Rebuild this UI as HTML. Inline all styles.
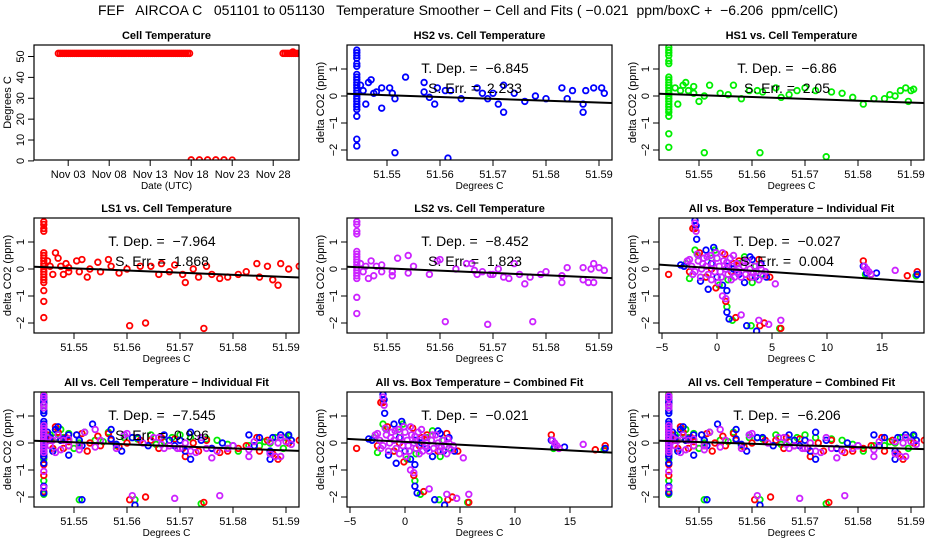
<!DOCTYPE html>
<html><head><meta charset="utf-8"><style>
html,body{margin:0;padding:0;background:#fff;}
svg{display:block;font-family:"Liberation Sans",Arial,sans-serif;}
text{white-space:pre;}
</style></head><body>
<svg id="chart" width="936" height="540" viewBox="0 0 936 540">
<text x="468" y="15" text-anchor="middle" font-size="14">FEF   AIRCOA C   051101 to 051130   Temperature Smoother − Cell and Fits ( −0.021  ppm/boxC +  −6.206  ppm/cellC)</text>
</svg>
<script>
// ---------- data ----------
const cellTempRuns = [[1.8, 18.0, 51.5], [29.2, 31.4, 51.5]];
const cellTempLow = [[18.0,0.5],[19.0,0.5],[20.0,0.5],[21.0,0.5],[22.0,0.5],[23.0,0.4],[30.4,52.2]];
const dateTicks = [3,8,13,18,23,28];
const dateTickLabels = ["Nov 03","Nov 08","Nov 13","Nov 18","Nov 23","Nov 28"];
const tempTicks = [0,10,20,30,40,50];
const cellXTicks = [51.55,51.56,51.57,51.58,51.59];
const boxXTicks = [-5,0,5,10,15];
const dcoTicks = [-2,-1,0,1];
const clusterX = 51.5443;

const hs2Cluster = [1.7,1.6,1.5,1.4,1.2,1.1,0.8,0.7,0.6,0.5,0.4,0.3,0.2,0.1,0,-0.1,-0.2,-0.3,-0.4,-0.5,-0.75,-1.6,-1.85];
const hs2Pts = [[51.545,0.4],[51.5455,0.2],[51.546,-0.3],[51.5465,0.5],[51.547,0.6],[51.5475,0.1],[51.548,0.15],[51.549,0.3],[51.549,-0.45],[51.5505,0.3],[51.551,0.1],[51.5515,-0.1],[51.5535,0.7],[51.557,0.5],[51.557,0.15],[51.558,-0.05],[51.559,-0.3],[51.5595,0.3],[51.561,0.2],[51.562,0.2],[51.5515,-2.1],[51.5615,-2.3],[51.5735,-2.6],[51.564,-0.1],[51.567,0.3],[51.568,0.1],[51.569,-0.1],[51.570,0.1],[51.571,-0.3],[51.572,0.4],[51.572,-0.6],[51.574,0.1],[51.576,-0.2],[51.578,0],[51.580,-0.1],[51.583,0.3],[51.584,-0.1],[51.585,0.2],[51.587,-0.6],[51.587,-0.3],[51.5875,0.2],[51.589,0.3],[51.5905,0.3],[51.591,0.1]];
const hs1Cluster = [1.8,1.7,1.6,1.5,1.3,1.2,0.7,0.6,0.5,0.4,0.3,0.2,0.1,0,-0.1,-0.2,-0.3,-0.4,-0.5,-0.6,-0.75,-1.4,-1.9];
const hs1Pts = [[51.5455,0.3],[51.546,-0.3],[51.5465,0.2],[51.547,0.4],[51.5475,0.5],[51.548,0.2],[51.549,0.35],[51.549,0.1],[51.55,-0.2],[51.551,0],[51.552,0.4],[51.554,0.1],[51.5555,0.05],[51.5565,0.4],[51.558,-0.1],[51.5595,0.2],[51.561,0.2],[51.562,0.15],[51.5645,0.3],[51.5655,-0.05],[51.567,0.05],[51.5685,0.2],[51.570,0.3],[51.572,0.2],[51.575,0.15],[51.577,0.1],[51.579,-0.05],[51.581,-0.3],[51.583,-0.1],[51.585,-0.1],[51.586,0.05],[51.587,0],[51.588,0.2],[51.589,0.3],[51.59,0.2],[51.5905,0.25],[51.5895,-0.2],[51.551,-2.1],[51.5615,-2.1],[51.574,-2.25]];
const ls1Cluster = [1.75,1.65,1.5,1.4,0.6,0.5,0.4,0.3,0.2,0.1,0,-0.1,-0.2,-0.3,-0.4,-0.5,-0.8,-1.2,-1.8];
const ls1Pts = [[51.545,0.3],[51.5455,0.1],[51.546,-0.2],[51.5465,0.6],[51.547,0.4],[51.5475,0.1],[51.548,-0.2],[51.5485,0.2],[51.549,0.05],[51.549,-0.1],[51.5505,0.3],[51.551,-0.1],[51.5515,0.35],[51.5525,-0.3],[51.553,0],[51.5545,0.25],[51.555,-0.1],[51.5565,0.35],[51.557,0.1],[51.5585,-0.15],[51.560,0],[51.5605,-2.1],[51.5625,0.1],[51.5635,-2.0],[51.5645,0.1],[51.566,-0.2],[51.5665,0.2],[51.568,-0.1],[51.569,0.15],[51.5705,-0.2],[51.571,-0.5],[51.5725,0],[51.5735,-0.3],[51.5745,-2.2],[51.575,0.1],[51.576,-0.2],[51.5775,-0.35],[51.579,-0.3],[51.581,-0.2],[51.5825,-0.1],[51.5845,0.2],[51.585,-0.3],[51.5865,0.1],[51.5875,-0.4],[51.5885,-0.6],[51.589,0.2],[51.5905,0],[51.5925,0.1]];
const ls2Cluster = [1.75,1.65,1.4,1.3,0.65,0.55,0.45,0.35,0.25,0.15,0.05,-0.05,-0.15,-0.25,-0.35,-1.05,-1.65];
const ls2Pts = [[51.545,0.2],[51.5455,-0.1],[51.546,0.1],[51.5465,-0.35],[51.547,0.3],[51.5475,-0.25],[51.548,0.1],[51.549,0.15],[51.549,-0.1],[51.551,-0.1],[51.551,-0.25],[51.552,0.4],[51.554,0.5],[51.554,-0.15],[51.555,0.1],[51.558,-0.2],[51.5595,0.3],[51.560,0.35],[51.561,-1.95],[51.563,0],[51.565,0.2],[51.566,0.2],[51.5665,-0.05],[51.567,-0.2],[51.568,-0.1],[51.569,-2.05],[51.5695,-0.2],[51.570,-0.2],[51.571,0],[51.572,-0.3],[51.573,-0.35],[51.574,0.2],[51.575,-0.2],[51.576,-0.55],[51.577,-0.3],[51.5775,-1.95],[51.579,-0.2],[51.58,-0.1],[51.583,-0.25],[51.583,-0.5],[51.584,0.05],[51.587,0.05],[51.587,-0.4],[51.588,-0.5],[51.5885,0],[51.589,0.2],[51.589,-0.5],[51.590,0.05],[51.591,-0.05]];

const boxBlue = [[-3.3,0.15],[-3,0.1],[-2,1.8],[-1.9,1.6],[-1.85,1.1],[-1.5,-0.45],[-1,0.7],[-0.8,-0.75],[-0.3,0.8],[0,-0.3],[0.5,-0.6],[0.9,-0.8],[0.9,-1.6],[1.1,-1.85],[1.5,0],[2,-0.2],[2.5,-0.5],[2.7,-2.1],[3,0.45],[3.2,0.35],[3.6,-2.3],[4,0.2],[4.5,-0.3],[5.3,-2.6],[13.3,0.1],[13.6,-0.15],[14.5,-0.15],[18.2,-0.2],[-0.5,0.2],[1,0.1],[3.5,-0.3]];
const boxGreen = [[-2.8,0.2],[-2.5,-0.35],[-2,0.7],[-1.7,0.5],[-0.5,0.4],[-0.2,0.7],[0.2,-0.6],[0.9,-1.4],[1.4,-1.9],[2,0.2],[2.5,0.45],[3.1,-2.1],[3.2,-0.5],[3.5,0.1],[5.7,-2.2],[13.5,-0.2],[18.1,-0.25],[-1,-0.3],[1,-0.4],[4,-0.2]];
const boxRed = [[-4.4,-0.2],[-2.5,-0.1],[-2.2,1.5],[-2,1.5],[-1.6,0.6],[-1,-0.3],[-0.1,-0.7],[0.7,0.55],[0.8,-1.2],[1.3,-0.1],[1.7,-1.8],[2,0.3],[3,-0.3],[3.8,0.35],[3.9,-2.1],[4.3,-2],[4.8,-0.3],[5.8,-2.2],[13.3,0.3],[14,-0.2],[17.3,-0.25],[18.2,-0.1],[-0.5,0],[1.5,0.2]];
const boxPurple = [[-2.7,0.3],[-2.3,0.1],[-2,-0.1],[-1.7,0.3],[-1.4,0],[-1.2,0.4],[-1,0.1],[-0.8,-0.2],[-0.6,0.5],[-0.4,0.2],[-0.2,-0.1],[0,0.4],[0.2,0.1],[0.4,-0.3],[0.6,0.3],[0.8,0],[1,-0.2],[1.2,0.4],[1.4,0.1],[1.6,-0.3],[1.8,0.2],[2,0],[2.2,-0.3],[2.4,0.1],[2.6,-0.2],[2.8,0.3],[3,0],[3.2,-0.3],[3.4,0.1],[3.6,-0.1],[3.8,-0.4],[4,0],[4.2,-0.25],[-1.5,-0.3],[-0.5,-0.4],[0.5,0.6],[1.5,0.5],[-2.5,0.35],[-1.8,0.55],[0.1,-0.5],[-2.2,-0.2],[-1.3,0.2],[-0.9,0.45],[-0.1,0.6],[0.3,-0.1],[0.9,0.25],[1.3,-0.4],[1.9,-0.1],[2.5,0.3],[3.3,-0.15],[3.9,0.15],[4.4,-0.1],[-2,1.7],[-1.9,1.4],[0.5,-1],[0.8,-1.1],[2.2,-1.7],[3.8,-1.9],[4.7,-2.05],[5.8,-1.9],[5.3,-0.55],[13.4,0.1],[13.6,0],[13.8,-0.1],[14,-0.2],[16.2,-0.05]];

const fitSlopes = [-6.845,-6.86,-7.964,-8.452,-0.027,-7.545,-0.021,-6.206];
const fitErrs = [2.233,2.05,1.868,1.823,0.004,0.996];

// ---------- layout ----------
const svg = document.getElementById('chart');
const NS = 'http://www.w3.org/2000/svg';
const colLeft = [34,347,659], rowTop = [45,218,392], W = 265, H = 115;
const COL = {blue:'#0000ff', green:'#00ee00', red:'#ff0000', purple:'#cc22ff'};
function el(tag, attrs, parent){const e=document.createElementNS(NS,tag);for(const k in attrs)e.setAttribute(k,attrs[k]);(parent||svg).appendChild(e);return e;}
function txt(x,y,s,size,anchor,parent,extra){const t=el('text',Object.assign({x:x,y:y,'font-size':size,'text-anchor':anchor||'middle'},extra||{}),parent);t.textContent=s;return t;}

function panel(r,c,name,title){
  const g=el('g',{});
  
  
  const L=colLeft[c],T=rowTop[r];
  const tt=txt(L+W/2,T-6,title,11,'middle',g,{'font-weight':'bold'});
  
  
  const clip=el('clipPath',{id:'clip'+r+c},g);
  el('rect',{x:L,y:T,width:W,height:H},clip);
  const inner=el('g',{'clip-path':'url(#clip'+r+c+')'},g);
  const frame=el('rect',{x:L,y:T,width:W,height:H,fill:'none',stroke:'#000','stroke-width':1.2},g);
  
  
  return {g,inner,L,T};
}
function yAxis(p,ticks,ys,label){
  ticks.forEach(v=>{const y=ys(v);el('line',{x1:p.L-6,x2:p.L,y1:y,y2:y,stroke:'#000'},p.g);
    const t=txt(p.L-10,y,String(v).replace('-','−'),11,'middle',p.g,{transform:'rotate(-90 '+(p.L-10)+' '+y+')'});
    
    });
  const yl=txt(p.L-23,p.T+H/2,label,11,'middle',p.g,{transform:'rotate(-90 '+(p.L-23)+' '+(p.T+H/2)+')'});
  
  
}
function xAxis(p,ticks,labels,xs,label){
  ticks.forEach((v,i)=>{const x=xs(v);el('line',{x1:x,x2:x,y1:p.T+H,y2:p.T+H+6,stroke:'#000'},p.g);
    const t=txt(x,p.T+H+18,labels[i],11,'middle',p.g);
    
    });
  const xl=txt(p.L+W/2,p.T+H+29,label,10,'middle',p.g);
  
  
}
function pt(p,x,y,color){const c=el('circle',{cx:x,cy:y,r:2.8,fill:'none',stroke:color,'stroke-width':1.8},p.inner);
  
  }
function fitLine(p,x1,y1,x2,y2){const l=el('line',{x1:x1,y1:y1,x2:x2,y2:y2,stroke:'#000','stroke-width':2},p.inner);
  
  }
function stats(p,dep,err){
  const cx=p.L+128;
  const a=txt(cx,p.T+28,'T. Dep. =  '+String(dep).replace('-','−'),14,'middle',p.g);
  
  
  if(err!==undefined){const b=txt(cx,p.T+48,'S. Err. =  '+err,14,'middle',p.g);
    
    }
}
const yScale=(p)=>v=>p.T+51-v*27;
const cellX=(p)=>v=>p.L+40+(v-51.55)*5300;
const boxX=(p)=>v=>p.L+58+v*11;
const cellLabels=cellXTicks.map(v=>v.toFixed(2));
const boxLabels=boxXTicks.map(v=>String(v).replace('-','−'));

// ---- panel 1: cell temperature time series
(function(){
  const p=panel(0,0,'cell-temperature-panel','Cell Temperature');
  const xs=v=>p.L+9.6+(v)*8.2, ys=v=>p.T+11.5-(v-50)*2.088;
  cellTempRuns.forEach(run=>{for(let d=run[0];d<=run[1]+1e-9;d+=0.25)pt(p,xs(d),ys(run[2]),COL.red);});
  cellTempLow.forEach(q=>pt(p,xs(q[0]),ys(q[1]),COL.red));
  yAxis(p,tempTicks,ys,'Degrees C');
  xAxis(p,dateTicks,dateTickLabels,xs,'Date (UTC)');
})();

function cellPanel(r,c,name,title,series,slope,err){
  const p=panel(r,c,name,title);const xs=cellX(p),ys=yScale(p);
  series.forEach(s=>{s.cluster.forEach(y=>pt(p,xs(clusterX),ys(y),s.color));s.pts.forEach(q=>pt(p,xs(q[0]),ys(q[1]),s.color));});
  fitLine(p,p.L,ys(0.07+slope*(51.5425-clusterX)),p.L+W,ys(0.07+slope*(51.5925-clusterX)));
  yAxis(p,dcoTicks,ys,'delta CO2 (ppm)');
  xAxis(p,cellXTicks,cellLabels,xs,'Degrees C');
  stats(p,slope,err);
}
function boxPanel(r,c,name,title,slope,err,a){
  const p=panel(r,c,name,title);const xs=boxX(p),ys=yScale(p);
  [[boxGreen,COL.green],[boxRed,COL.red],[boxBlue,COL.blue],[boxPurple,COL.purple]].forEach(s=>s[0].forEach(q=>pt(p,xs(q[0]),ys(q[1]),s[1])));
  fitLine(p,p.L,ys(a+slope*-5.3),xs(19),ys(a+slope*19));
  yAxis(p,dcoTicks,ys,'delta CO2 (ppm)');
  xAxis(p,boxXTicks,boxLabels,xs,'Degrees C');
  stats(p,slope,err);
}
const S_HS2={cluster:hs2Cluster,pts:hs2Pts,color:COL.blue};
const S_HS1={cluster:hs1Cluster,pts:hs1Pts,color:COL.green};
const S_LS1={cluster:ls1Cluster,pts:ls1Pts,color:COL.red};
const S_LS2={cluster:ls2Cluster,pts:ls2Pts,color:COL.purple};
cellPanel(0,1,'hs2-panel','HS2 vs. Cell Temperature',[S_HS2],fitSlopes[0],fitErrs[0]);
cellPanel(0,2,'hs1-panel','HS1 vs. Cell Temperature',[S_HS1],fitSlopes[1],fitErrs[1]);
cellPanel(1,0,'ls1-panel','LS1 vs. Cell Temperature',[S_LS1],fitSlopes[2],fitErrs[2]);
cellPanel(1,1,'ls2-panel','LS2 vs. Cell Temperature',[S_LS2],fitSlopes[3],fitErrs[3]);
boxPanel(1,2,'all-box-individual-panel','All vs. Box Temperature − Individual Fit',fitSlopes[4],fitErrs[4],0.02);
cellPanel(2,0,'all-cell-individual-panel','All vs. Cell Temperature − Individual Fit',[S_HS1,S_LS1,S_HS2,S_LS2],fitSlopes[5],fitErrs[5]);
boxPanel(2,1,'all-box-combined-panel','All vs. Box Temperature − Combined Fit',fitSlopes[6],undefined,0.04);
cellPanel(2,2,'all-cell-combined-panel','All vs. Cell Temperature − Combined Fit',[S_HS1,S_LS1,S_HS2,S_LS2],fitSlopes[7],undefined);
</script>
</body></html>
